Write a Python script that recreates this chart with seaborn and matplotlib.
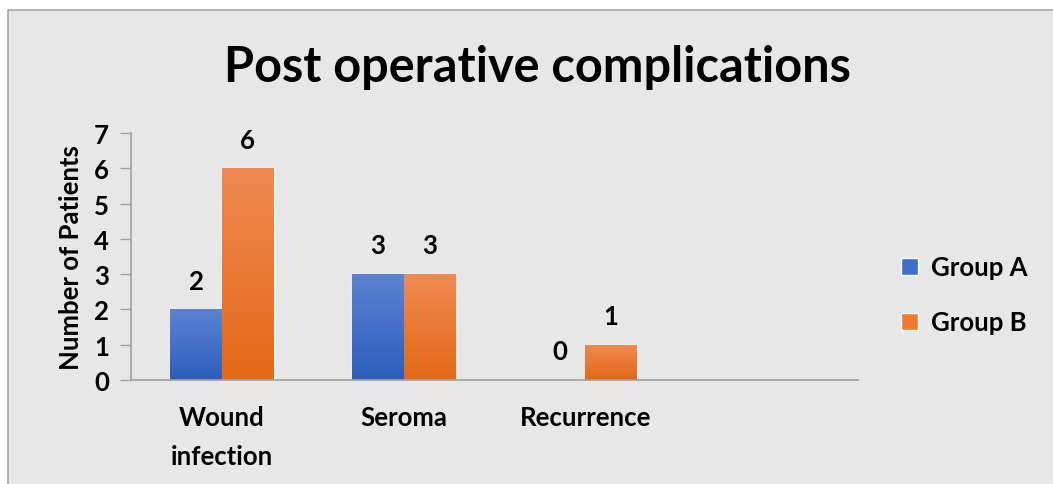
import numpy as np
import pandas as pd
import matplotlib
matplotlib.use("Agg")
import matplotlib.pyplot as plt
import matplotlib.colors as mcolors
from matplotlib.patches import Rectangle
import seaborn as sns

# data
categories = ["Wound\ninfection", "Seroma", "Recurrence"]
group_a = [2, 3, 0]
group_b = [6, 3, 1]
groups = ["Group A", "Group B"]

df = pd.DataFrame({
    "Complication": categories * 2,
    "Patients": group_a + group_b,
    "Group": [groups[0]] * 3 + [groups[1]] * 3,
})

sns.set_theme(style="white")
plt.rcParams["font.family"] = ["Lato", "DejaVu Sans"]
plt.rcParams["font.weight"] = "bold"
plt.rcParams["text.color"] = "black"
plt.rcParams["xtick.color"] = "black"
plt.rcParams["ytick.color"] = "black"
plt.rcParams["axes.labelcolor"] = "black"

fs = 18.5
bg = "#e7e7e7"
fig = plt.figure(figsize=(10.53, 4.85), dpi=100)
fig.patch.set_facecolor("white")
# chart area with border
fig.patches.append(Rectangle((8 / 1053, -0.1), 1.2, 1 - 11 / 485 + 0.1,
                             transform=fig.transFigure, facecolor=bg,
                             edgecolor="#a6a6a6", linewidth=1.2, zorder=-5))

ax = fig.add_axes([131 / 1053, 1 - 381 / 485, 727 / 1053, 247 / 485])
ax.set_facecolor("none")

palette = {"Group A": "#3e6fca", "Group B": "#ee7a2c"}
sns.barplot(data=df, x="Complication", y="Patients", hue="Group",
            order=categories + [" "], palette=palette, width=0.57,
            ax=ax, saturation=1, legend=True)

# gradient fill on each bar
grads = {
    "Group A": ["#5b83d2", "#2d5dbd"],
    "Group B": ["#f08a52", "#e36816"],
}
for cont, g in zip(ax.containers, groups):
    cmap = mcolors.LinearSegmentedColormap.from_list(g, grads[g][::-1])
    for p in cont.patches:
        h = p.get_height()
        if not h or np.isnan(h):
            continue
        x0, y0 = p.get_x(), p.get_y()
        im = ax.imshow(np.linspace(0, 1, 100).reshape(-1, 1), cmap=cmap,
                       origin="lower", aspect="auto",
                       extent=[x0, x0 + p.get_width(), y0, y0 + h], zorder=2)
        im.set_clip_path(p)
    ax.bar_label(cont, fontsize=fs, fontweight="bold", padding=12)

ax.set_xlim(-0.5, 3.5)
ax.set_ylim(0, 7)
ax.set_yticks(range(0, 8))
ax.tick_params(axis="y", length=8, width=1, color="#a0a0a0", labelcolor="black",
               labelsize=fs, pad=8, left=True)
ax.tick_params(axis="x", length=0, labelsize=fs, pad=18, labelcolor="black")
for lab in ax.get_xticklabels() + ax.get_yticklabels():
    lab.set_fontweight("bold")
    lab.set_linespacing(1.75)
for s in ["top", "right"]:
    ax.spines[s].set_visible(False)
for s in ["left", "bottom"]:
    ax.spines[s].set_color("#a0a0a0")
    ax.spines[s].set_linewidth(1.2)

ax.set_xlabel("")
ax.set_ylabel("Number of Patients", fontsize=fs, fontweight="bold", labelpad=8)

fig.suptitle("Post operative complications", x=537 / 1053, y=1 - 68 / 485,
             va="center", fontsize=35, fontweight="bold", color="black")

leg = ax.legend(loc="center left", bbox_to_anchor=(1.028, 0.345), frameon=False,
                fontsize=fs, handlelength=0.65, handleheight=0.65,
                labelspacing=1.2, handletextpad=0.5)
for t in leg.get_texts():
    t.set_fontweight("bold")

fig.savefig("out.png", dpi=100, facecolor=fig.get_facecolor())
